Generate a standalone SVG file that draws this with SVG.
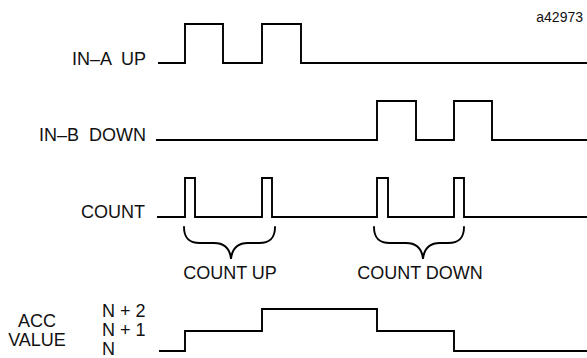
<svg xmlns="http://www.w3.org/2000/svg" width="587" height="358" viewBox="0 0 587 358">
<style>
text{font-family:"Liberation Sans",Arial,sans-serif;font-size:18px;fill:#111;white-space:pre}
.w{fill:none;stroke:#000;stroke-width:1.9;stroke-linejoin:miter}
.b{fill:none;stroke:#000;stroke-width:1.9;stroke-linecap:round}
</style>
<rect width="587" height="358" fill="#fff"/>
<text x="583" y="22" text-anchor="end" style="font-size:14px">a42973</text>
<g id="in-a">
<text x="146" y="65" text-anchor="end">IN–A  UP</text>
<path class="w" d="M158,63 H185 V24 H223 V63 H262 V24 H301 V63 H587"/>
</g>
<g id="in-b">
<text x="146" y="141" text-anchor="end">IN–B  DOWN</text>
<path class="w" d="M156,140 H377 V101 H416 V140 H454 V101 H492 V140 H587"/>
</g>
<g id="count">
<text x="145" y="218" text-anchor="end">COUNT</text>
<path class="w" d="M157,217 H185 V178 H195 V217 H262 V178 H272 V217 H377 V178 H388 V217 H454 V178 H464 V217 H587"/>
</g>
<g id="count-up">
<path class="b" d="M184,227 C184,239 190,243 200,243 L214,243 C225,243 230,249 231,259 C232,249 237,243 248,243 L259,243 C269,243 275,239 275,227"/>
<text x="230" y="279" text-anchor="middle">COUNT UP</text>
</g>
<g id="count-down">
<path class="b" d="M374,227 C374,239 380,243 390,243 L406,243 C417,243 422,249 423,259 C424,249 429,243 440,243 L448,243 C458,243 464,239 464,227"/>
<text x="420" y="279" text-anchor="middle">COUNT DOWN</text>
</g>
<g id="acc">
<text x="37" y="327" text-anchor="middle">ACC</text>
<text x="37" y="346" text-anchor="middle">VALUE</text>
<text x="102" y="317">N + 2</text>
<text x="102" y="336">N + 1</text>
<text x="102" y="355">N</text>
<path class="w" d="M159,351 H185 V331 H262 V309 H377 V331 H454 V351 H587"/>
</g>
</svg>
